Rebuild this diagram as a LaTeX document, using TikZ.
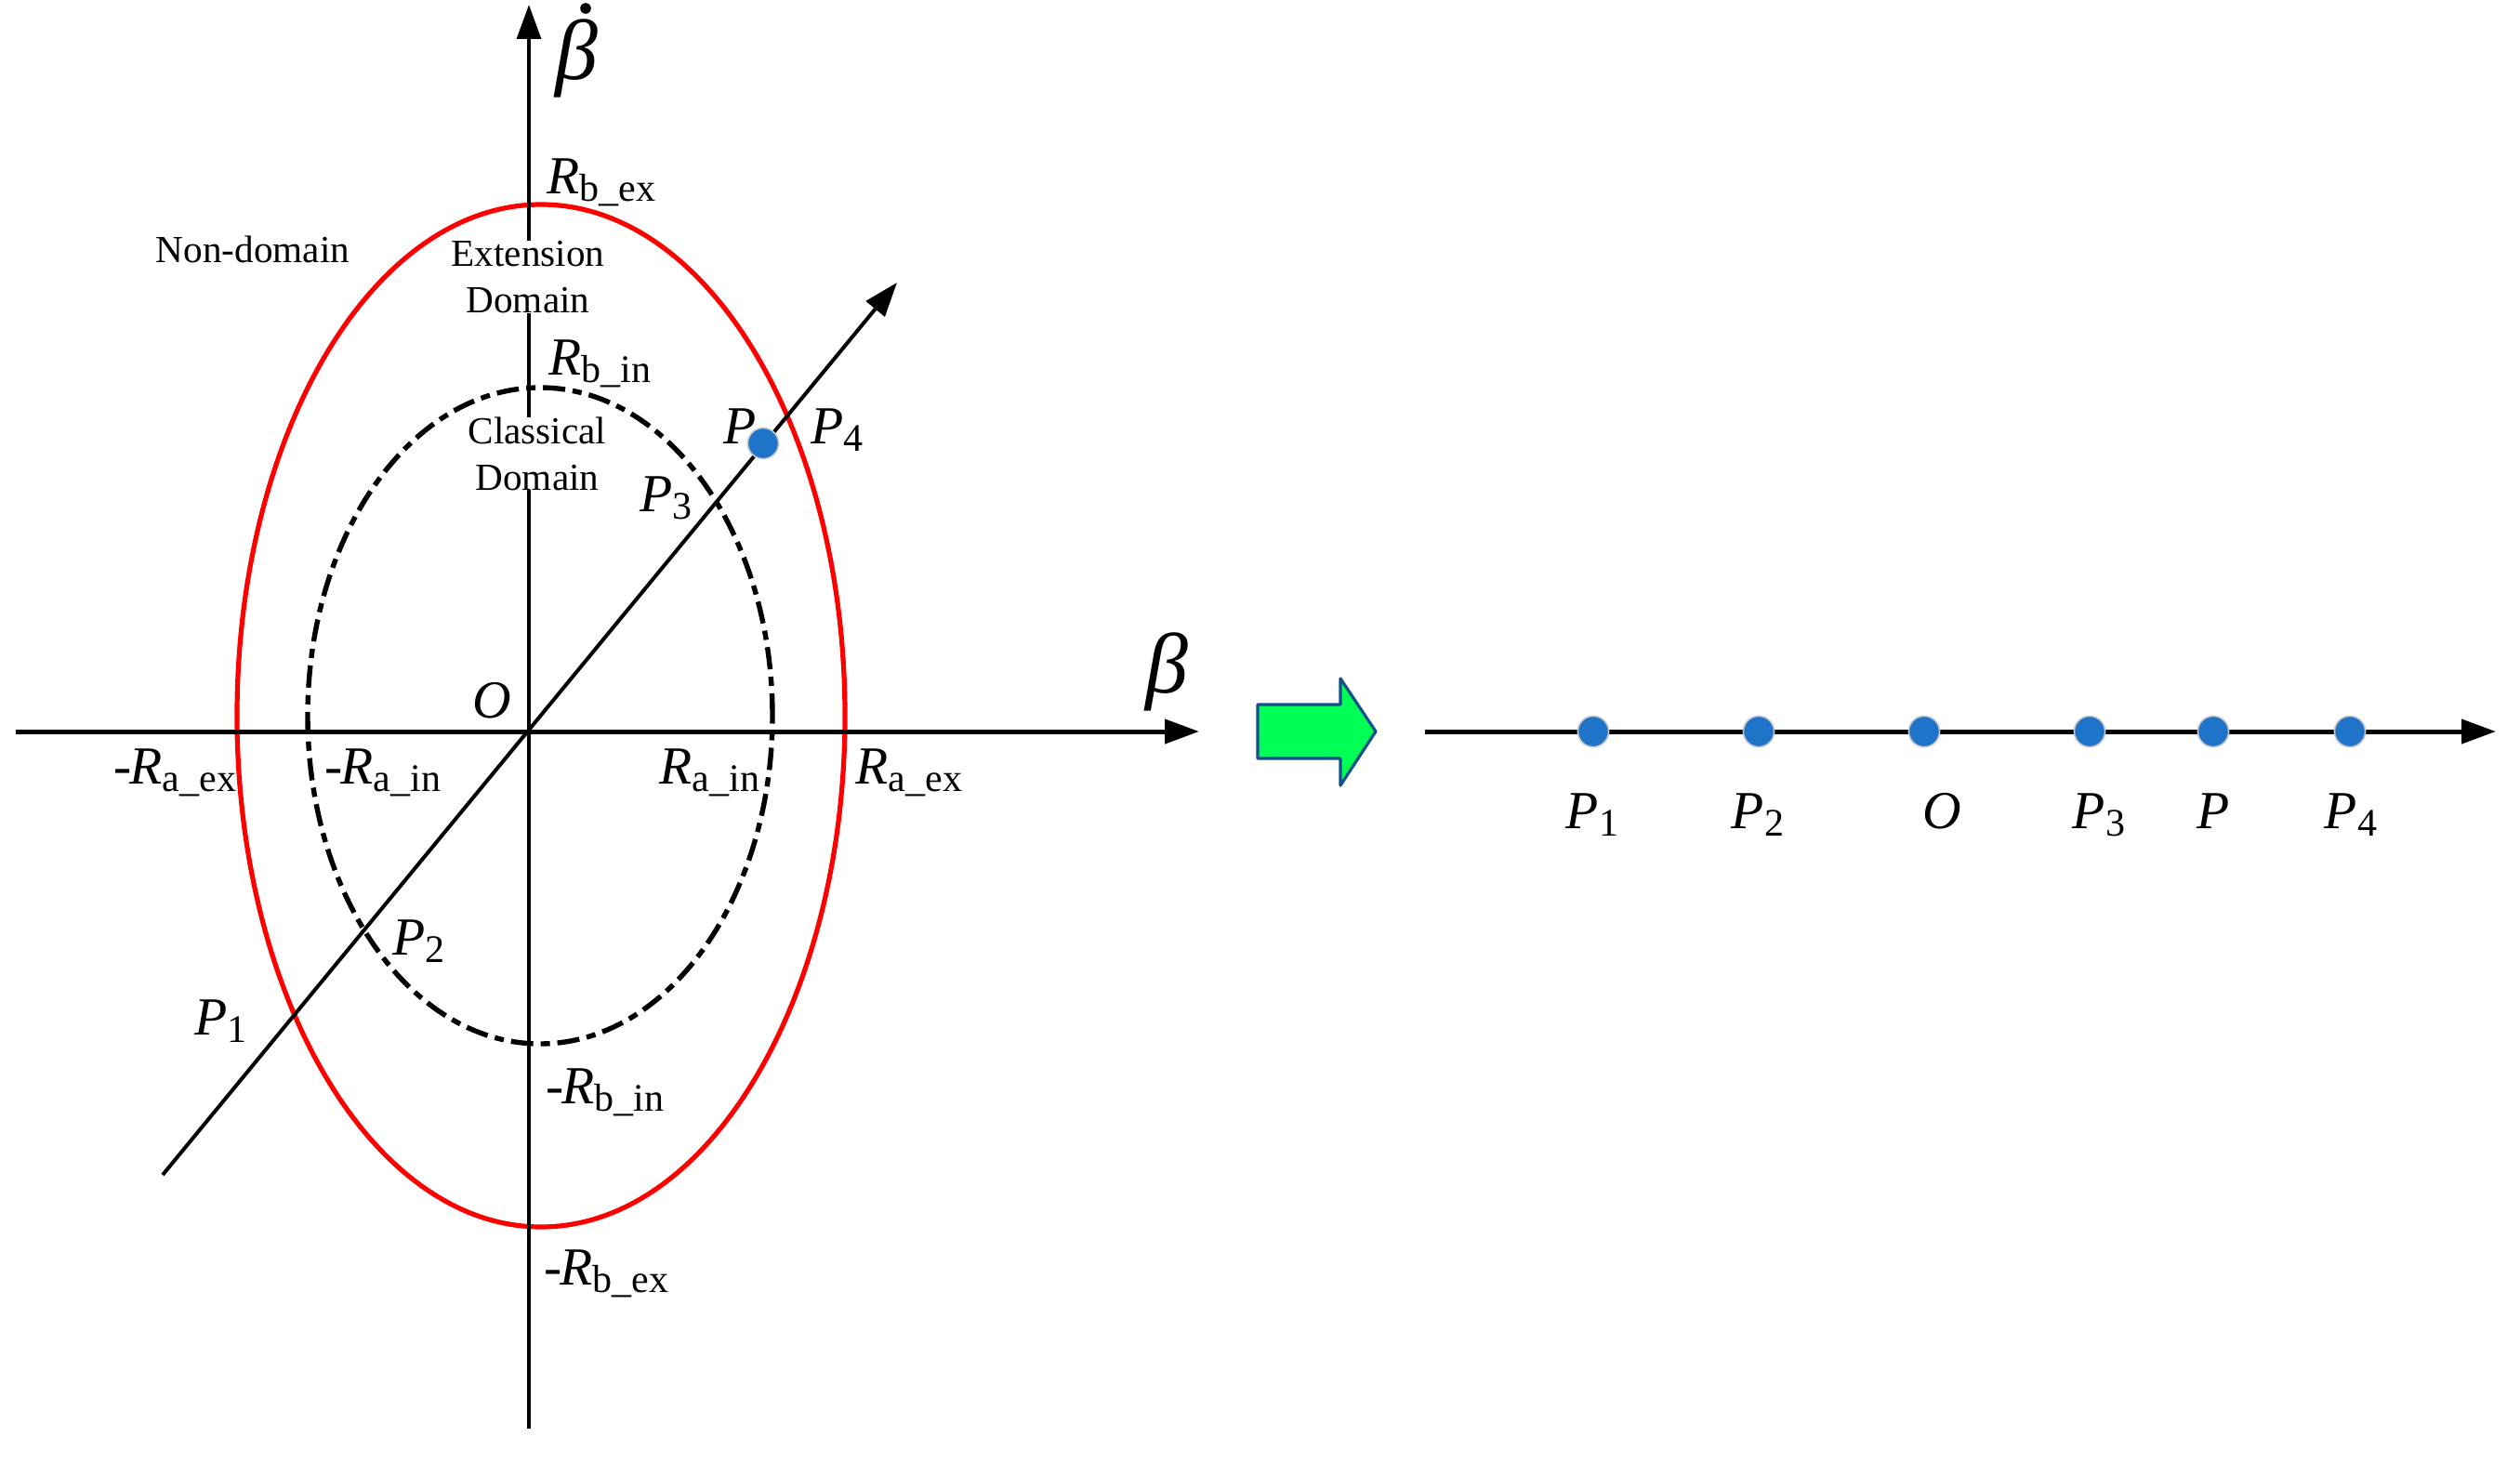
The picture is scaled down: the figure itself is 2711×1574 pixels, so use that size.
\documentclass[tikz,border=0pt]{standalone}
\usepackage{fontspec}
\setmainfont{Liberation Serif}
\usetikzlibrary{arrows.meta}
\definecolor{dotblue}{RGB}{31,115,200}
\definecolor{dotrim}{RGB}{200,200,200}
\definecolor{arrgreen}{RGB}{0,255,85}
\definecolor{arrblue}{RGB}{20,80,140}
\newcommand\lbl[2]{\textit{#1}\raisebox{-2.2pt}{\fontsize{10.5}{12}\selectfont #2}}
\newcommand\neglbl[2]{-\kern-0.6pt\lbl{#1}{#2}}
\begin{document}
\begin{tikzpicture}[x=0.25pt,y=-0.25pt,
  tipb/.style={-{Triangle[length=9.2pt,width=6.4pt]}},
  vaxis/.style={line width=1.0pt,tipb},
  haxis/.style={line width=1.25pt,tipb},
  lab/.style={font=\fontsize{14.4}{17}\selectfont, inner sep=0pt, anchor=base west},
  dom/.style={font=\fontsize{10.3}{12.5}\selectfont, inner sep=0pt, align=center, fill=white},
  txt/.style={font=\fontsize{10.3}{12.5}\selectfont, inner sep=0pt, anchor=base west},
  bdot/.style={circle, fill=dotblue, draw=dotrim, line width=0.4pt, minimum size=8.3pt, inner sep=0pt},
  greek/.style={font=\fontsize{23}{26}\selectfont, inner sep=0pt},
]
\fill[white] (0,0) rectangle (2711,1574);
\useasboundingbox (0,0) rectangle (2711,1574);

% ---------- left panel coordinates ----------
\coordinate (vb) at (569,1537);
\coordinate (vt) at (569,5);
\coordinate (hl) at (17,787);
\coordinate (hr) at (1290,787);
\coordinate (dl) at (175,1264);
\coordinate (dr) at (965,304);

% ellipses
\draw[red, line width=1.3pt] (582,770) ellipse [x radius=81.75pt, y radius=137.5pt];
\draw[black, line width=1.35pt, dash pattern=on 6pt off 2pt on 2.5pt off 2pt] (581,770) ellipse [x radius=62.5pt, y radius=88.25pt];

% axes
\draw[vaxis] (vb) -- (vt);
\draw[haxis] (hl) -- (hr);
\draw[line width=1.0pt, tipb] (dl) -- (dr);

% domain labels (white background hides the axis)
\node[dom] (ext) at (568,298) {Extension\\Domain};
\node[dom] (cls) at (578,488) {Classical\\Domain};
\node[txt] (non) at (167,282) {Non-domain};

% axis labels
\node[greek] (bdt) at (620,63) {\textit{β}};
\fill (630,9) circle (1.45pt);
\node[greek] (bh) at (1255,723) {\textit{β}};

% R labels
\node[lab] (rbex) at (588,208) {\lbl{R}{b\_ex}};
\node[lab] (rbin) at (590,403) {\lbl{R}{b\_in}};
\node[lab] (nrbin) at (587,1187) {\neglbl{R}{b\_in}};
\node[lab] (nrbex) at (585,1382) {\neglbl{R}{b\_ex}};
\node[lab] (nraex) at (122,843) {\neglbl{R}{a\_ex}};
\node[lab] (nrain) at (349,843) {\neglbl{R}{a\_in}};
\node[lab] (rain) at (709,843) {\lbl{R}{a\_in}};
\node[lab] (raex) at (920,843) {\lbl{R}{a\_ex}};
\node[lab] (ol) at (508,772) {\textit{O}};

% P labels left
\node[bdot] (pl) at (821,477) {};
\node[lab] (plab) at (778,477) {\textit{P}};
\node[lab] (p4l) at (872,477) {\lbl{P}{4}};
\node[lab] (p3l) at (688,550) {\lbl{P}{3}};
\node[lab] (p2l) at (422,1027) {\lbl{P}{2}};
\node[lab] (p1l) at (209,1113) {\lbl{P}{1}};

% ---------- green arrow ----------
\filldraw[fill=arrgreen, draw=arrblue, line width=0.8pt, line join=round]
  (1353,758) -- (1442,758) -- (1442,730) -- (1480,787) -- (1442,845) -- (1442,816) -- (1353,816) -- cycle;

% ---------- right panel ----------
\coordinate (rs) at (1533,787);
\coordinate (re) at (2685,787);
\draw[haxis] (rs) -- (re);
\node[bdot] (d1) at (1714,787) {};
\node[bdot] (d2) at (1892,787) {};
\node[bdot] (d3) at (2070,787) {};
\node[bdot] (d4) at (2248,787) {};
\node[bdot] (d5) at (2381,787) {};
\node[bdot] (d6) at (2528,787) {};
\node[lab] (r1) at (1684,891) {\lbl{P}{1}};
\node[lab] (r2) at (1862,891) {\lbl{P}{2}};
\node[lab] (r3) at (2068,891) {\textit{O}};
\node[lab] (r4) at (2229,891) {\lbl{P}{3}};
\node[lab] (r5) at (2363,891) {\textit{P}};
\node[lab] (r6) at (2500,891) {\lbl{P}{4}};
\end{tikzpicture}
\end{document}
